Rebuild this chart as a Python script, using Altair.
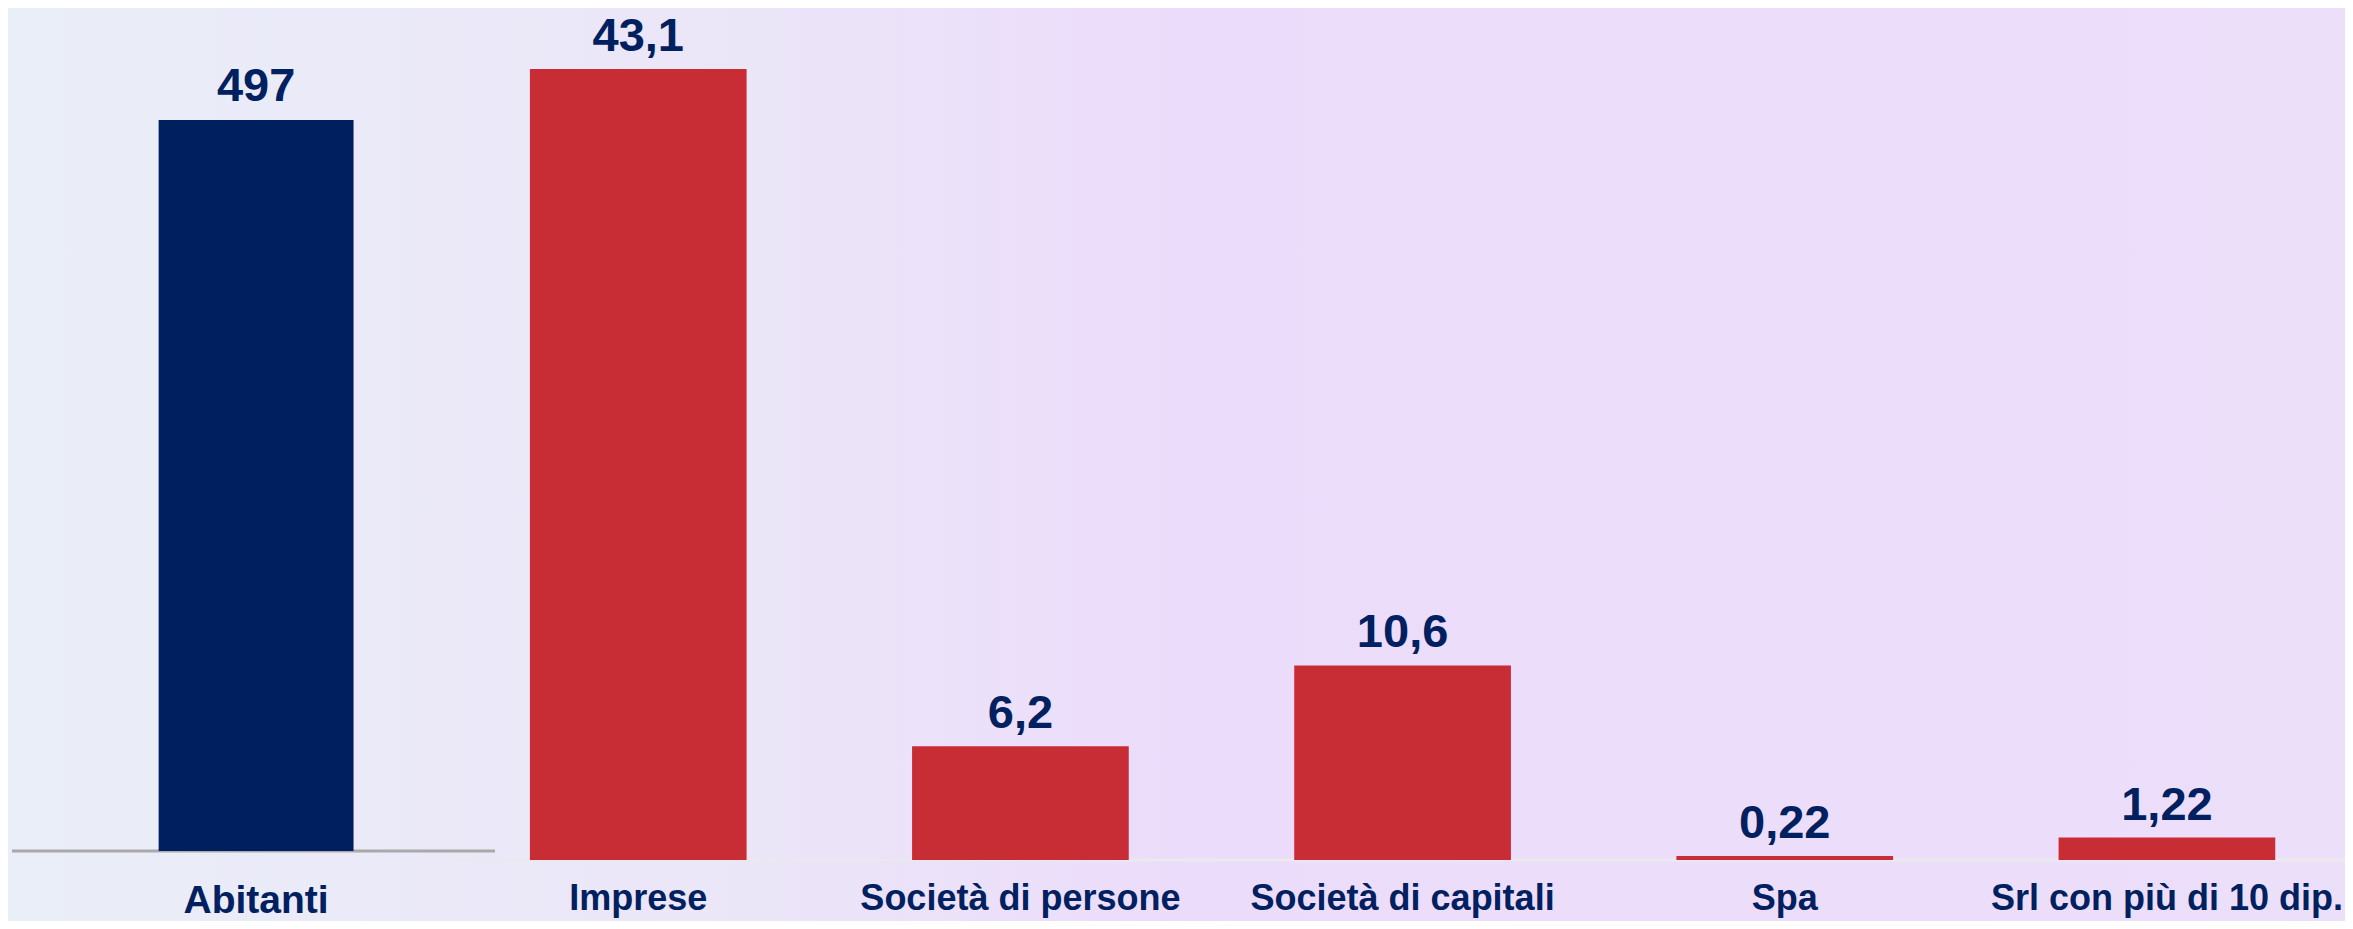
import altair as alt
import pandas as pd

# ---- data ----
categories = ["Abitanti", "Imprese", "Società di persone", "Società di capitali",
              "Spa", "Srl con più di 10 dip."]
values = [497, 43.1, 6.2, 10.6, 0.22, 1.22]
value_labels = ["497", "43,1", "6,2", "10,6", "0,22", "1,22"]
groups = ["abitanti", "imprese", "imprese", "imprese", "imprese", "imprese"]

df = pd.DataFrame({"cat": categories, "value": values,
                   "label": value_labels, "grp": groups})

FONT = "Liberation Sans Narrow, Arial Narrow, Liberation Sans, Arial, sans-serif"
NAVY = "#002060"
RED = "#c82c34"
W, H = 2337, 852
BOTTOM = 61

x_enc = alt.X(
    "cat:N", sort=categories,
    scale=alt.Scale(domain=categories, range=[57, 2350],
                    paddingInner=0, paddingOuter=0),
    axis=alt.Axis(title=None, labelAngle=0, domain=False, ticks=False,
                  tickSize=0, labelPadding=21, labelFont=FONT,
                  labelFontWeight="bold", labelColor=NAVY,
                  labelFontSize=alt.expr("datum.value == 'Abitanti' ? 39 : 36"),
                  labelBaseline="top", labelLimit=0, labelOverlap=False,
                  grid=False, zindex=1),
)

base = alt.Chart(df)

# soft background wash
bg = alt.Chart(pd.DataFrame({"k": [0]})).mark_rect(
    fill=alt.Gradient(
        gradient="linear", x1=0, x2=1, y1=0, y2=0,
        stops=[alt.GradientStop(color="#eaeef8", offset=0),
               alt.GradientStop(color="#ebe5f8", offset=0.33),
               alt.GradientStop(color="#ecdcfb", offset=0.5),
               alt.GradientStop(color="#ecdffa", offset=1)])
).encode(x=alt.value(0), x2=alt.value(W), y=alt.value(0), y2=alt.value(H + BOTTOM))

# Abitanti layer (own scale)
ya = alt.Scale(domain=[-6.12, 573.2], nice=False, zero=False)
ab = base.transform_filter(alt.datum.grp == "abitanti")
ab_rule = ab.mark_rule(color="#a9a9a9", strokeWidth=3).encode(
    x=alt.value(4), x2=alt.value(487),
    y=alt.Y(datum=0, scale=ya, axis=None))
ab_bar = ab.mark_bar(color="#001f5f", width=alt.RelativeBandSize(0.51)).encode(
    x=x_enc, y=alt.Y("value:Q", scale=ya, axis=None))
ab_txt = ab.mark_text(baseline="alphabetic", dy=-19, fontSize=47,
                      fontWeight="bold", font=FONT, color=NAVY).encode(
    x=x_enc, y=alt.Y("value:Q", scale=ya, axis=None), text="label:N")
layer_a = alt.layer(ab_rule, ab_bar, ab_txt)

# Imprese layer (own scale)
yr = alt.Scale(domain=[0, 46.42], nice=False, zero=False)
im = base.transform_filter(alt.datum.grp == "imprese")
im_rule = im.transform_filter(alt.datum.cat == "Imprese").mark_rule(
    color="#ebe8ee", strokeWidth=3).encode(
    x=alt.value(443), x2=alt.value(W),
    y=alt.Y(datum=0, scale=yr, axis=None))
im_bar = im.mark_bar(color=RED, width=alt.RelativeBandSize(0.567)).encode(
    x=x_enc, y=alt.Y("value:Q", scale=yr, axis=None))
im_txt = im.mark_text(baseline="alphabetic", dy=-18, fontSize=47,
                      fontWeight="bold", font=FONT, color=NAVY).encode(
    x=x_enc, y=alt.Y("value:Q", scale=yr, axis=None), text="label:N")
layer_b = alt.layer(im_rule, im_bar, im_txt)

chart = alt.layer(bg, layer_a, layer_b).resolve_scale(y="independent").properties(
    width=W, height=H,
    autosize="none",
    padding={"left": 0, "top": 0, "right": 0, "bottom": BOTTOM},
    background="#ecdffa",
).configure_view(stroke=None)

chart.save("out.html", embed_options={"renderer": "svg", "actions": False})
